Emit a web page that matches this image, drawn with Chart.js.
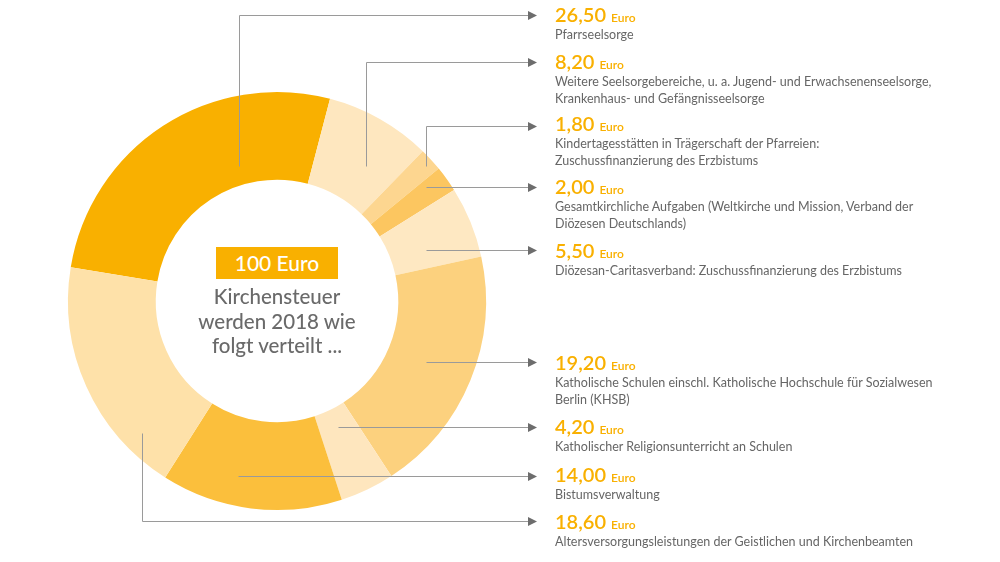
<!DOCTYPE html>
<html><head><meta charset="utf-8">
<script src="https://cdn.jsdelivr.net/npm/chart.js@4.4.1/dist/chart.umd.min.js"></script>
<style>
html,body{margin:0;padding:0;background:#fff;}
#wrap{position:relative;width:1000px;height:562px;overflow:hidden;font-family:Lato,"Open Sans",sans-serif;}
#c{position:absolute;left:0;top:0;}
.lbl{position:absolute;left:555px;white-space:nowrap;}
.val{font-size:20px;line-height:20px;font-weight:600;color:#F9B000;}
.val span{font-size:12px;margin-left:5px;font-weight:600;}
.desc{font-size:12.5px;line-height:17px;color:#666;}
.val + .desc{margin-top:-2px;}
#badge{position:absolute;left:216px;top:247px;width:122px;height:32px;background:#F9B000;color:#fff;font-size:21px;line-height:32px;text-align:center;font-weight:500;}
#ctext{position:absolute;left:167px;top:284px;width:220px;text-align:center;color:#6a6a6a;font-size:20.5px;line-height:24.5px;font-weight:500;}
</style>
</head><body>
<div id="wrap">
<canvas id="c" width="1000" height="562"></canvas>
<div id="badge"></div>
<div id="ctext"></div>
</div>
<script>
// ---- data ----
const categories = [
  'Pfarrseelsorge',
  'Weitere Seelsorgebereiche, u. a. Jugend- und Erwachsenenseelsorge,\nKrankenhaus- und Gefängnisseelsorge',
  'Kindertagesstätten in Trägerschaft der Pfarreien:\nZuschussfinanzierung des Erzbistums',
  'Gesamtkirchliche Aufgaben (Weltkirche und Mission, Verband der\nDiözesen Deutschlands)',
  'Diözesan-Caritasverband: Zuschussfinanzierung des Erzbistums',
  'Katholische Schulen einschl. Katholische Hochschule für Sozialwesen\nBerlin (KHSB)',
  'Katholischer Religionsunterricht an Schulen',
  'Bistumsverwaltung',
  'Altersversorgungsleistungen der Geistlichen und Kirchenbeamten'
];
const values = [26.5, 8.2, 1.8, 2.0, 5.5, 19.2, 4.2, 14.0, 18.6];
const unit = 'Euro';
const totalLabel = '100 Euro';
const centerLines = ['Kirchensteuer', 'werden 2018 wie', 'folgt verteilt ...'];

// ---- styles / layout ----
const sliceColors = ['#F9B000','#FEE7BF','#FDD690','#FCC660','#FEE8C2','#FCD17E','#FEE6BE','#FBBF3C','#FEE1A9'];
const labelTops = [4, 50.6, 113.3, 176.3, 239.6, 352.3, 416.3, 464, 510.6];
const leaderPaths = [
  [[239,166],[239,15],[528,15]],
  [[366,166],[366,62],[528,62]],
  [[426,166],[426,126],[528,126]],
  [[426,187],[528,187]],
  [[426,250],[528,250]],
  [[426,362],[528,362]],
  [[338,427],[528,427]],
  [[238,476],[528,476]],
  [[142,433],[142,521],[528,521]]
];

const wrap = document.getElementById('wrap');
document.getElementById('badge').textContent = totalLabel;
document.getElementById('ctext').innerHTML = centerLines.map(s => '<div>' + s + '</div>').join('');
categories.forEach((cat, i) => {
  const d = document.createElement('div');
  d.className = 'lbl';
  d.style.top = labelTops[i] + 'px';
  const v = document.createElement('div');
  v.className = 'val';
  v.textContent = values[i].toFixed(2).replace('.', ',');
  const u = document.createElement('span');
  u.textContent = unit;
  v.appendChild(u);
  d.appendChild(v);
  cat.split('\n').forEach(line => {
    const l = document.createElement('div');
    l.className = 'desc';
    l.textContent = line;
    d.appendChild(l);
  });
  wrap.appendChild(d);
});

const leaderPlugin = {
  id: 'leaders',
  afterDatasetsDraw(chart) {
    const ctx = chart.ctx;
    ctx.save();
    leaderPaths.forEach(p => {
      ctx.beginPath();
      ctx.strokeStyle = '#9a9a9a';
      ctx.lineWidth = 1;
      p.forEach((pt, k) => {
        const x = Math.round(pt[0]) + 0.5, y = Math.round(pt[1]) + 0.5;
        if (k === 0) ctx.moveTo(x, y); else ctx.lineTo(x, y);
      });
      ctx.stroke();
      const end = p[p.length - 1];
      const ey = Math.round(end[1]) + 0.5;
      ctx.beginPath();
      ctx.fillStyle = '#6d6d6d';
      ctx.moveTo(end[0], ey - 4.5);
      ctx.lineTo(end[0] + 9, ey);
      ctx.lineTo(end[0], ey + 4.5);
      ctx.closePath();
      ctx.fill();
    });
    ctx.restore();
  }
};

new Chart(document.getElementById('c'), {
  type: 'doughnut',
  data: {
    labels: categories,
    datasets: [{ data: values, backgroundColor: sliceColors, borderWidth: 0, hoverOffset: 0 }]
  },
  options: {
    responsive: false,
    animation: false,
    rotation: -80.7,
    cutout: '58%',
    layout: { padding: { left: 68, top: 92, right: 514, bottom: 52 } },
    plugins: { legend: { display: false }, tooltip: { enabled: false } },
    events: []
  },
  plugins: [leaderPlugin]
});
</script>
</body></html>
